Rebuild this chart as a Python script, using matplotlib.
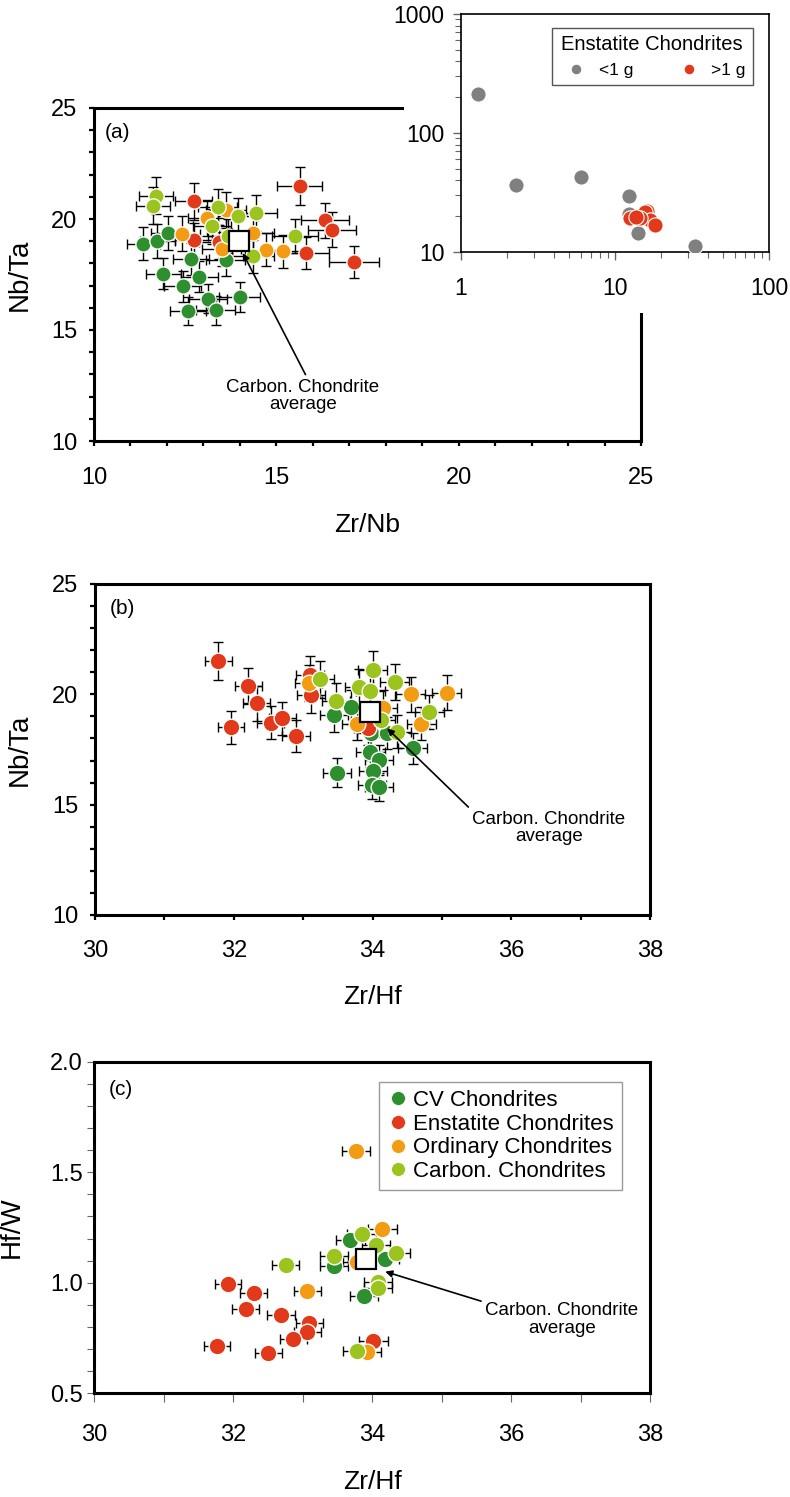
import matplotlib
matplotlib.use("Agg")
import matplotlib.pyplot as plt
from matplotlib.lines import Line2D
from matplotlib.patches import Rectangle
from matplotlib.ticker import MultipleLocator, FuncFormatter, NullFormatter

plt.rcParams['font.family'] = ['Liberation Sans', 'DejaVu Sans']

# cores dos grupos
cor_cv = '#2e8f2e'
cor_ens = '#e2391a'
cor_ord = '#f39b12'
cor_carb = '#9cc41f'
cor_cinza = '#808080'

# ---- dados painel (a): Zr/Nb x Nb/Ta ----
a_cv_x = [11.35, 11.74, 12.04, 12.66, 13.61, 11.90, 12.89, 12.43, 13.13, 14.00, 12.58, 13.34]
a_cv_y = [18.89, 19.01, 19.37, 18.20, 18.17, 17.54, 17.39, 16.96, 16.40, 16.49, 15.86, 15.88]
a_ens_x = [12.73, 15.64, 16.33, 16.53, 15.80, 17.13, 12.74, 13.43]
a_ens_y = [20.79, 21.50, 19.94, 19.52, 18.47, 18.05, 19.07, 18.95]
a_ord_x = [12.40, 13.09, 13.63, 14.36, 13.50, 14.73, 15.19]
a_ord_y = [19.34, 20.05, 20.42, 19.37, 18.65, 18.62, 18.54]
a_carb_x = [11.70, 11.61, 13.39, 13.95, 14.43, 13.24, 15.51, 13.68, 14.36]
a_carb_y = [21.05, 20.60, 20.54, 20.15, 20.27, 19.67, 19.22, 19.22, 18.32]
a_media = (13.98, 18.99)

# ---- dados painel (b): Zr/Hf x Nb/Ta ----
b_cv_x = [33.45, 33.69, 33.98, 34.21, 34.58, 33.97, 34.09, 34.01, 33.49, 33.99, 34.09]
b_cv_y = [19.06, 19.44, 18.23, 18.23, 17.55, 17.40, 17.02, 16.54, 16.45, 15.89, 15.82]
b_ens_x = [31.78, 32.21, 32.33, 31.96, 32.53, 32.70, 32.90, 33.10, 33.11, 33.93]
b_ens_y = [21.53, 20.38, 19.59, 18.50, 18.72, 18.91, 18.11, 20.88, 19.97, 18.46]
b_ord_x = [33.08, 34.55, 35.07, 34.70, 33.77, 34.15]
b_ord_y = [20.50, 20.00, 20.08, 18.66, 18.66, 19.40]
b_carb_x = [33.25, 34.00, 34.32, 33.47, 33.80, 33.97, 34.82, 34.35, 34.12]
b_carb_y = [20.68, 21.10, 20.57, 19.71, 20.32, 20.17, 19.21, 18.31, 18.84]
b_media = (33.97, 19.21)

# ---- dados painel (c): Zr/Hf x Hf/W ----
c_cv_x = [33.69, 33.45, 34.19, 33.89]
c_cv_y = [1.193, 1.075, 1.106, 0.940]
c_ens_x = [31.93, 32.30, 32.18, 32.69, 33.10, 33.07, 32.87, 31.77, 32.51, 34.02]
c_ens_y = [0.992, 0.955, 0.881, 0.853, 0.816, 0.778, 0.745, 0.715, 0.683, 0.736]
c_ord_x = [33.77, 34.15, 33.07, 33.93, 33.79]
c_ord_y = [1.597, 1.242, 0.962, 0.687, 1.095]
c_carb_x = [33.85, 33.45, 34.34, 32.76, 34.09, 34.09, 33.79, 34.06]
c_carb_y = [1.221, 1.121, 1.136, 1.080, 1.005, 0.974, 0.690, 1.170]
c_media = (33.91, 1.106)

# ---- inset: condritos enstatiticos ----
ins_menor_x = [1.29, 2.28, 6.0, 12.3, 14.2, 33.2, 12.3]
ins_menor_y = [213, 36.6, 43, 29.6, 14.4, 11.3, 21]
ins_maior_x = [12.6, 16.1, 15.7, 16.9, 18.2, 14.5, 13.6]
ins_maior_y = [19.2, 22.2, 21.5, 18.6, 16.9, 19.2, 19.6]

# incertezas relativas
err_zrnb = 0.04
err_nbta = 0.04
err_zrhf = 0.006

W, H = 790, 1497
fig = plt.figure(figsize=(W / 100, H / 100), dpi=100)


def eixo(left, top, right, bottom, z=0):
    return fig.add_axes([left / W, 1 - bottom / H, (right - left) / W, (bottom - top) / H], zorder=z)


def barras(ax, x, y, ex, ey):
    xe = [v * ex for v in x] if ex else None
    ye = [v * ey for v in y] if ey else None
    ax.errorbar(x, y, xerr=xe, yerr=ye, fmt='none', ecolor='black',
                elinewidth=1, capsize=3.5, capthick=1, zorder=2)


def pontos(ax, x, y, cor, ms):
    ax.plot(x, y, 'o', ms=ms, mfc=cor, mec='white', mew=1, ls='none', zorder=3)


def estilo(ax, grosso=True):
    for s in ax.spines.values():
        s.set_linewidth(2.2)
    if grosso:
        ax.tick_params(which='both', direction='out', length=3.8, width=1.6,
                       color='black', top=False, right=False)
    ax.tick_params(axis='both', labelsize=17)


def rotulos(ax, xl, yl, xy_x, xy_y):
    ax.set_xlabel(xl, fontsize=19, va='top')
    ax.set_ylabel(yl, fontsize=20, va='bottom')
    ax.xaxis.set_label_coords(0.5, xy_x)
    ax.yaxis.set_label_coords(xy_y, 0.5)


grupos = [(cor_cv, 'CV Chondrites'), (cor_ens, 'Enstatite Chondrites'),
          (cor_ord, 'Ordinary Chondrites'), (cor_carb, 'Carbon. Chondrites')]

# ---------------- painel (a) ----------------
ax1 = eixo(94, 108, 641, 441, z=0)
dados_a = [(a_cv_x, a_cv_y), (a_ens_x, a_ens_y), (a_ord_x, a_ord_y), (a_carb_x, a_carb_y)]
for x, y in dados_a:
    barras(ax1, x, y, err_zrnb, err_nbta)
for (x, y), (cor, _) in zip(dados_a, grupos):
    pontos(ax1, x, y, cor, 11)
ax1.plot([a_media[0]], [a_media[1]], 's', ms=14, mfc='white', mec='black', mew=1.6, zorder=4)
ax1.annotate('Carbon. Chondrite\naverage', xy=(14.08, 18.47), xytext=(15.73, 12.03),
             ha='center', va='center', fontsize=13.5, linespacing=1.05,
             arrowprops=dict(arrowstyle='-|>', color='black', lw=1.2, mutation_scale=10,
                             shrinkA=1, shrinkB=0, relpos=(0.53, 1.0)))
ax1.set_xlim(10, 25)
ax1.set_ylim(10, 25)
ax1.xaxis.set_major_locator(MultipleLocator(5))
ax1.xaxis.set_minor_locator(MultipleLocator(1))
ax1.yaxis.set_major_locator(MultipleLocator(5))
ax1.yaxis.set_minor_locator(MultipleLocator(1))
estilo(ax1)
ax1.tick_params(axis='x', pad=15)
ax1.tick_params(axis='y', pad=8)
rotulos(ax1, 'Zr/Nb', 'Nb/Ta', -0.216, -0.112)
ax1.text(0.02, 0.955, '(a)', transform=ax1.transAxes, fontsize=15, va='top', ha='left')

# area branca sob o inset
fig.patches.append(Rectangle((404 / W, 1 - 313 / H), (W - 404) / W, 313 / H,
                             transform=fig.transFigure, facecolor='white',
                             edgecolor='none', zorder=1))

# ---------------- inset ----------------
axi = eixo(461, 14, 769, 252, z=2)
axi.plot(ins_menor_x, ins_menor_y, 'o', ms=11, mfc=cor_cinza, mec='white', mew=0.8,
         ls='none', zorder=3, label='<1 g')
axi.plot(ins_maior_x, ins_maior_y, 'o', ms=11, mfc=cor_ens, mec='white', mew=0.8,
         ls='none', zorder=3, label='>1 g')
axi.set_xscale('log')
axi.set_yscale('log')
axi.set_xlim(1, 100)
axi.set_ylim(10, 1000)
fmt = FuncFormatter(lambda v, p: '%g' % v)
axi.xaxis.set_major_formatter(fmt)
axi.yaxis.set_major_formatter(fmt)
axi.xaxis.set_minor_formatter(NullFormatter())
axi.yaxis.set_minor_formatter(NullFormatter())
for s in axi.spines.values():
    s.set_linewidth(1.2)
axi.tick_params(which='major', direction='out', length=6, width=1, color='#666666',
                labelsize=16.5, pad=6)
axi.tick_params(which='minor', direction='out', length=4, width=0.8, color='#666666')
axi.tick_params(axis='x', pad=12)
leg_i = axi.legend(title='Enstatite Chondrites', ncol=2, loc='upper right',
                   bbox_to_anchor=(0.975, 0.978), fontsize=12.5, title_fontsize=14.5,
                   markerscale=0.7, handletextpad=0.3, columnspacing=2.2,
                   fancybox=False, edgecolor='#555555', framealpha=1, borderpad=0.4)
leg_i.get_frame().set_linewidth(1)

# ---------------- painel (b) ----------------
ax2 = eixo(95, 584, 650, 915)
dados_b = [(b_cv_x, b_cv_y), (b_ens_x, b_ens_y), (b_ord_x, b_ord_y), (b_carb_x, b_carb_y)]
for x, y in dados_b:
    barras(ax2, x, y, err_zrhf, err_nbta)
for (x, y), (cor, _) in zip(dados_b, grupos):
    pontos(ax2, x, y, cor, 12)
ax2.plot([b_media[0]], [b_media[1]], 's', ms=15, mfc='white', mec='black', mew=1.6, zorder=4)
ax2.annotate('Carbon. Chondrite\naverage', xy=(34.21, 18.46), xytext=(36.54, 13.94),
             ha='center', va='center', fontsize=13.5, linespacing=1.05,
             arrowprops=dict(arrowstyle='-|>', color='black', lw=1.2, mutation_scale=10,
                             shrinkA=1, shrinkB=0, relpos=(0.0, 1.0)))
ax2.set_xlim(30, 38)
ax2.set_ylim(10, 25)
ax2.xaxis.set_major_locator(MultipleLocator(2))
ax2.xaxis.set_minor_locator(MultipleLocator(1))
ax2.yaxis.set_major_locator(MultipleLocator(5))
ax2.yaxis.set_minor_locator(MultipleLocator(1))
estilo(ax2)
ax2.tick_params(axis='x', pad=14)
ax2.tick_params(axis='y', pad=8)
rotulos(ax2, 'Zr/Hf', 'Nb/Ta', -0.211, -0.113)
ax2.text(0.027, 0.955, '(b)', transform=ax2.transAxes, fontsize=15, va='top', ha='left')

# ---------------- painel (c) ----------------
ax3 = eixo(94, 1062, 650, 1393)
dados_c = [(c_cv_x, c_cv_y), (c_ens_x, c_ens_y), (c_ord_x, c_ord_y), (c_carb_x, c_carb_y)]
for x, y in dados_c:
    barras(ax3, x, y, err_zrhf, None)
for (x, y), (cor, _) in zip(dados_c, grupos):
    pontos(ax3, x, y, cor, 12)
ax3.plot([c_media[0]], [c_media[1]], 's', ms=15, mfc='white', mec='black', mew=1.6, zorder=4)
ax3.annotate('Carbon. Chondrite\naverage', xy=(34.19, 1.05), xytext=(36.73, 0.832),
             ha='center', va='center', fontsize=13.5, linespacing=1.05,
             arrowprops=dict(arrowstyle='-|>', color='black', lw=1.2, mutation_scale=10,
                             shrinkA=1, shrinkB=0, relpos=(0.0, 1.0)))
ax3.set_xlim(30, 38)
ax3.set_ylim(0.5, 2.0)
ax3.xaxis.set_major_locator(MultipleLocator(2))
ax3.xaxis.set_minor_locator(MultipleLocator(1))
ax3.yaxis.set_major_locator(MultipleLocator(0.5))
ax3.yaxis.set_minor_locator(MultipleLocator(0.1))
ax3.yaxis.set_major_formatter(FuncFormatter(lambda v, p: '%.1f' % v))
estilo(ax3, grosso=False)
ax3.tick_params(which='both', direction='out', width=0.8, color='#666666', top=False, right=False)
ax3.tick_params(axis='x', which='both', length=6.2, pad=16)
ax3.tick_params(axis='y', which='both', length=5, pad=3)
rotulos(ax3, 'Zr/Hf', 'Hf/W', -0.233, -0.124)
ax3.text(0.027, 0.945, '(c)', transform=ax3.transAxes, fontsize=15, va='top', ha='left')

handles = [Line2D([], [], marker='o', ls='none', ms=10, mfc=cor, mec='white', mew=0.5)
           for cor, _ in grupos]
leg = ax3.legend(handles, [n for _, n in grupos], loc='upper right',
                 bbox_to_anchor=(0.969, 0.972), fontsize=16, handletextpad=0.2,
                 labelspacing=0.12, borderpad=0.35, handlelength=1.0,
                 fancybox=False, edgecolor='#999999', framealpha=1)
leg.get_frame().set_linewidth(1)

fig.savefig('out.png', dpi=100)
